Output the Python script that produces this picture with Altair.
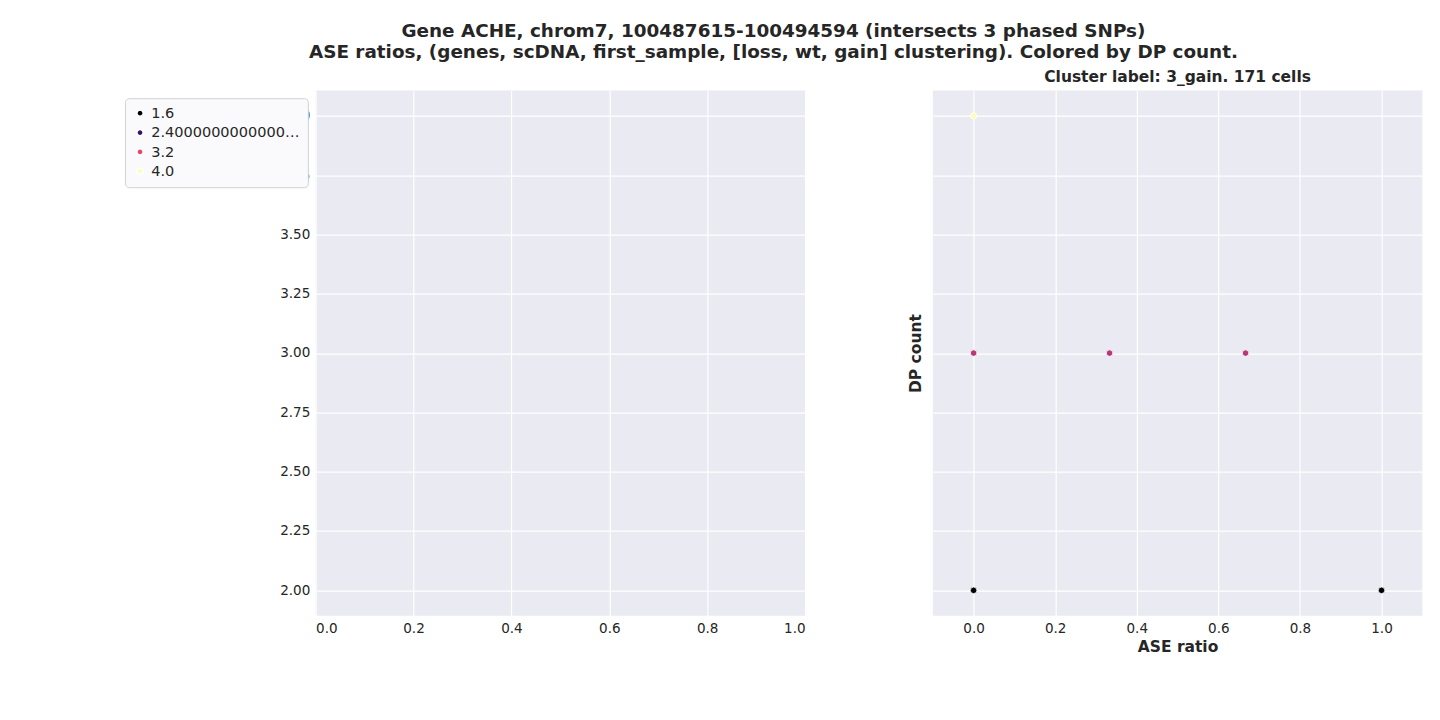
import altair as alt
import pandas as pd

# right panel points
ase_ratio = [0.0, 0.0, 0.3333, 0.6667, 0.0, 1.0]
dp_count = [4, 3, 3, 3, 2, 2]
point_colors = ["#fcfdbf", "#b73779", "#b73779", "#b73779", "#000004", "#000004"]

legend_labels = ["1.6", "2.4000000000000004", "3.2", "4.0"]
legend_colors = ["#000004", "#3b0f70", "#e3466e", "#fcfdbf"]

df = pd.DataFrame({"ase": ase_ratio, "dp": dp_count, "c": point_colors})
leg = pd.DataFrame({"ase": [0.0] * 4, "dp": [3.0] * 4, "lab": legend_labels})

W, H = 506, 543
ydom = [1.893, 4.107]
grid_axis = dict(grid=True, gridColor="white", gridWidth=1.2, domain=False, ticks=False,
                 labelFontSize=14, labelColor="#262626", labelPadding=6,
                 titleFontSize=16, titleFontWeight="bold", titleColor="#262626")

left = alt.Chart(df).mark_point(opacity=0).encode(
    x=alt.X("ase:Q", scale=alt.Scale(domain=[0, 1], nice=False),
            axis=alt.Axis(values=[0, 0.2, 0.4, 0.6, 0.8, 1.0], format=".1f", title=None, **grid_axis)),
    y=alt.Y("dp:Q", scale=alt.Scale(domain=ydom, nice=False, zero=False),
            axis=alt.Axis(values=[2, 2.25, 2.5, 2.75, 3, 3.25, 3.5, 3.75, 4], format=".2f", title=None, **grid_axis)),
).properties(width=W, height=H)

xr = alt.X("ase:Q", scale=alt.Scale(domain=[-0.1, 1.1], nice=False),
           axis=alt.Axis(values=[0, 0.2, 0.4, 0.6, 0.8, 1.0], format=".1f", title="ASE ratio", **grid_axis))
yr = alt.Y("dp:Q", scale=alt.Scale(domain=ydom, nice=False, zero=False),
           axis=alt.Axis(values=[2, 2.25, 2.5, 2.75, 3, 3.25, 3.5, 3.75, 4], labels=False,
                         title="DP count", titlePadding=10, **grid_axis))

pts = alt.Chart(df).mark_circle(size=45, opacity=1, stroke="white", strokeWidth=0.8).encode(
    x=xr, y=yr, color=alt.Color("c:N", scale=None))

legend_layer = alt.Chart(leg).mark_circle(size=40, opacity=0).encode(
    x=xr, y=yr,
    color=alt.Color("lab:N", scale=alt.Scale(domain=legend_labels, range=legend_colors),
                    legend=alt.Legend(title=None, orient="top-right", offset=8, fillColor="#fafafc",
                                      strokeColor="#d0d0d0", cornerRadius=4, padding=8,
                                      labelFontSize=15, labelColor="#262626", symbolOpacity=1,
                                      symbolSize=40, symbolType="circle", rowPadding=4)))

right = alt.layer(pts, legend_layer).properties(
    width=W, height=H,
    title=alt.TitleParams("Cluster label: 3_gain. 171 cells", fontSize=16, fontWeight="bold",
                          color="#262626", offset=6))

chart = alt.hconcat(left, right, spacing=103).properties(
    padding={"left": 120, "top": 4, "right": 10, "bottom": 10},
    title=alt.TitleParams(["Gene ACHE, chrom7, 100487615-100494594 (intersects 3 phased SNPs)",
                           "ASE ratios, (genes, scDNA, first_sample, [loss, wt, gain] clustering). Colored by DP count."],
                          fontSize=19, fontWeight="bold", color="#262626", anchor="middle", offset=8)
).configure(font="DejaVu Sans", background="white").configure_view(fill="#eaeaf2", stroke=None)

chart.save("out.html", embed_options={"renderer": "svg", "actions": False})
